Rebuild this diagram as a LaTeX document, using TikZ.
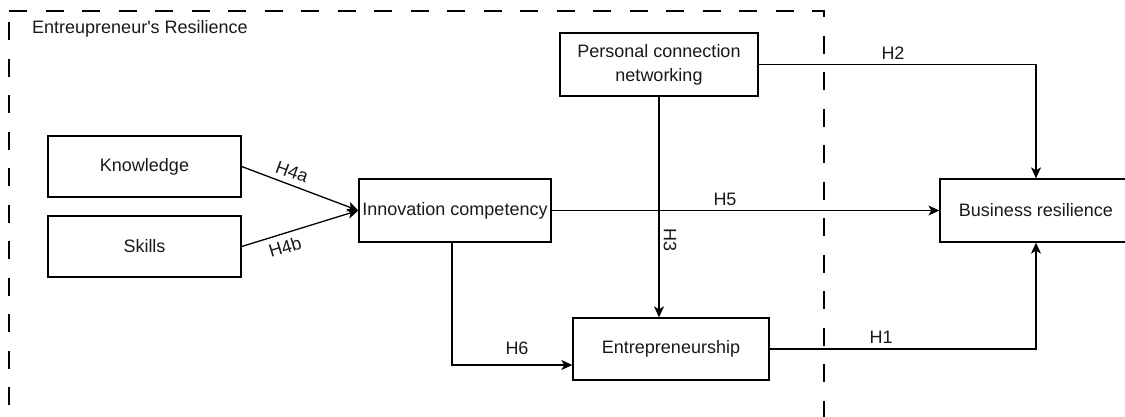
\documentclass[tikz,border=0pt]{standalone}
\usepackage{fontspec}
\setmainfont{Liberation Sans}
\usetikzlibrary{arrows.meta}
\begin{document}
\begin{tikzpicture}[x=1pt,y=-1pt,
  box/.style={draw=black,line width=1.3pt,rectangle,inner sep=0pt,align=center,
    font=\fontsize{18}{24}\selectfont,text=black!90},
  link/.style={draw=black,line width=1.3pt,-{Stealth[length=11pt,width=10pt,inset=3pt]}},
  hyp/.style={font=\fontsize{18}{21}\selectfont,text=black!90,inner sep=0pt},
  frame/.style={draw=black,line width=1.3pt,dash pattern=on 18pt off 18.5pt}]
\useasboundingbox (0,0) rectangle (1125,416);

% dashed boundary of the entrepreneur's resilience block
\draw[frame] (9,11) -- (824,11) -- (824,440);
\draw[frame] (9,22) -- (9,440);
\node[hyp,anchor=west] (title) at (32,29) {Entreupreneur\textquotesingle s Resilience};

% constructs
\node[box,minimum width=193,minimum height=61] (know) at (144.5,166.5) {Knowledge};
\node[box,minimum width=193,minimum height=61] (skill) at (144.5,246.5) {Skills};
\node[box,minimum width=192,minimum height=63] (innov) at (455,210.5) {Innovation competency};
\node[box,minimum width=198,minimum height=63] (pcn) at (659,64.5) {Personal connection\\networking};
\node[box,minimum width=196,minimum height=62] (ent) at (671,349) {Entrepreneurship};
\node[box,minimum width=192,minimum height=63] (bus) at (1036,210.5) {Business resilience};

% hypothesised paths
\draw[link] (know.east) -- (innov.west);
\draw[link] (skill.east) -- (innov.west);
\draw[link] (innov.east) -- (bus.west);
\draw[link] (pcn.east) -| (bus.north);
\draw[link] (pcn.south) -- (pcn.south |- ent.north);
\draw[link] ([xshift=-3pt]innov.south) |- ([yshift=-16pt]ent.west);
\draw[link] (ent.east) -| (bus.south);

% path labels
\node[hyp,rotate=-20] (h4a) at (292,172) {H4a};
\node[hyp,rotate=17] (h4b) at (285,247) {H4b};
\node[hyp] (h5) at (725,199) {H5};
\node[hyp] (h2) at (893,53) {H2};
\node[hyp,rotate=-90] (h3) at (670,240) {H3};
\node[hyp] (h6) at (517,348) {H6};
\node[hyp] (h1) at (881,337) {H1};
\end{tikzpicture}
\end{document}
